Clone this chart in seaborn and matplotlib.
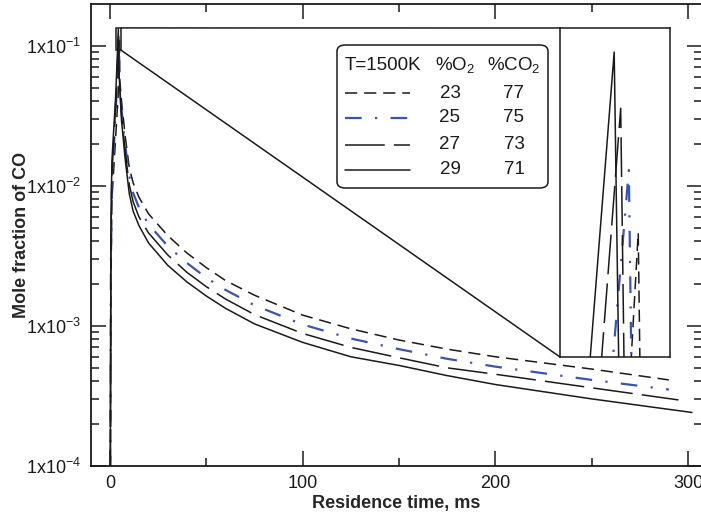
import numpy as np
import pandas as pd
import matplotlib
matplotlib.use("Agg")
import matplotlib.pyplot as plt
import seaborn as sns
from matplotlib.patches import FancyBboxPatch, Rectangle, ConnectionPatch
from matplotlib.lines import Line2D

# ---------------- data ----------------
t_23 = [0, 0.5, 1, 4.2, 4.92, 5.05, 6, 8, 10, 12, 15, 20, 30, 40, 50, 60, 75, 100, 125, 150, 175, 200, 250, 290]
co_23 = [1e-5, 2e-3, 8e-3, 0.043, 0.1085, 0.058, 0.040, 0.022, 0.0135, 0.0105, 0.0083, 0.0063, 0.0044,
         0.0033, 0.0026, 0.0021, 0.00165, 0.00119, 0.00095, 0.00079, 0.00068, 0.00060, 0.00049, 0.00041]

t_25 = [0, 0.5, 1, 3.6, 4.69, 4.85, 6, 8, 10, 12, 15, 20, 30, 40, 50, 60, 75, 100, 125, 150, 175, 200, 250, 290]
co_25 = [1e-5, 3e-3, 0.010, 0.051, 0.1163, 0.054, 0.035, 0.019, 0.0118, 0.0089, 0.0070, 0.0053, 0.0037,
         0.0028, 0.0022, 0.0018, 0.0014, 0.00102, 0.00081, 0.00068, 0.00058, 0.00051, 0.00041, 0.00035]

t_27 = [0, 0.5, 1, 3.3, 4.49, 4.65, 6, 8, 10, 12, 15, 20, 30, 40, 50, 60, 75, 100, 125, 150, 175, 200, 250, 295]
co_27 = [1e-5, 4e-3, 0.012, 0.045, 0.124, 0.062, 0.032, 0.017, 0.0102, 0.0077, 0.0060, 0.0046, 0.0032,
         0.0024, 0.0019, 0.00155, 0.0012, 0.00088, 0.00070, 0.00059, 0.00050, 0.00045, 0.00036, 0.000295]

t_29 = [0, 0.5, 1, 3.0, 4.33, 4.5, 6, 8, 10, 12, 15, 20, 30, 40, 50, 60, 75, 100, 125, 150, 175, 200, 250, 302]
co_29 = [1e-5, 5e-3, 0.015, 0.045, 0.131, 0.072, 0.029, 0.015, 0.0088, 0.0066, 0.0052, 0.0039, 0.0027,
         0.00205, 0.00163, 0.00133, 0.00103, 0.00076, 0.00060, 0.00052, 0.00044, 0.00038, 0.00030, 0.00024]

o2_pct = ["23", "25", "27", "29"]
co2_pct = ["77", "75", "73", "71"]
legend_title = "T=1500K"

y_ticks = [1e-4, 1e-3, 1e-2, 1e-1]
y_tick_labels = [r"1x10$^{-4}$", r"1x10$^{-3}$", r"1x10$^{-2}$", r"1x10$^{-1}$"]
x_ticks = [0, 100, 200, 300]
x_tick_labels = ["0", "100", "200", "300"]

# inset zoom window
inset_xlim = (3.0, 5.7)
inset_ylim = (0.093, 0.134)

# ---------------- style ----------------
sns.set_style("ticks")
plt.rcParams["font.family"] = ["Liberation Sans", "DejaVu Sans"]
plt.rcParams["mathtext.fontset"] = "custom"
plt.rcParams["mathtext.rm"] = "Liberation Sans"
plt.rcParams["mathtext.it"] = "Liberation Sans:italic"
plt.rcParams["mathtext.bf"] = "Liberation Sans:bold"

INK = "#1a1a1a"
BLUE = "#3c54ad"
styles = [
    dict(color=INK, linestyle=(0, (8, 4.5)), lw=1.1),
    dict(color=BLUE, linestyle=(0, (7.5, 6, 1, 6)), lw=1.6),
    dict(color=INK, linestyle=(0, (26, 6)), lw=1.1),
    dict(color=INK, linestyle="-", lw=1.1),
]

W, H = 701, 517
fig = plt.figure(figsize=(W / 100, H / 100), dpi=100)

def fx(px):
    return px / W

def fy(py):
    return 1 - py / H

ax_l, ax_r, ax_t, ax_b = 90.7, 702.0, 4.0, 465.7
ax = fig.add_axes([fx(ax_l), fy(ax_b), fx(ax_r - ax_l), (ax_b - ax_t) / H])

series = [(t_23, co_23), (t_25, co_25), (t_27, co_27), (t_29, co_29)]
for (tt, vv), st in zip(series, styles):
    df = pd.DataFrame({"t": tt, "co": vv})
    sns.lineplot(data=df, x="t", y="co", ax=ax, sort=False, estimator=None,
                 color=st["color"], linestyle=st["linestyle"], linewidth=st["lw"])

ax.set_yscale("log")
ax.set_xlim(-10, 307.2)
ax.set_ylim(1e-4, 0.1986)
ax.set_yticks(y_ticks)
ax.set_yticklabels(y_tick_labels)
ax.set_xticks(x_ticks)
ax.set_xticklabels(x_tick_labels)
ax.set_xticks([50, 150, 250], minor=True)
ax.yaxis.set_minor_locator(matplotlib.ticker.LogLocator(base=10, subs=np.arange(2, 10)))
ax.yaxis.set_minor_formatter(matplotlib.ticker.NullFormatter())
ax.tick_params(which="both", direction="in", top=True, right=True, colors=INK,
               labelsize=13, width=1.1, pad=7)
ax.tick_params(which="major", length=11)
ax.tick_params(which="minor", length=6)
for s in ax.spines.values():
    s.set_linewidth(1.3)
    s.set_color(INK)
ax.set_xlabel("Residence time, ms", fontsize=13, fontweight="bold", labelpad=2)
ax.set_ylabel("Mole fraction of CO", fontsize=13, fontweight="bold")
ax.yaxis.set_label_coords(-0.100, 0.5)

# ---------------- inset ----------------
ix_l, ix_r, ix_t, ix_b = 560, 670, 28, 357
axin = fig.add_axes([fx(ix_l), fy(ix_b), fx(ix_r - ix_l), (ix_b - ix_t) / H])
for (tt, vv), st in zip(series, styles):
    df = pd.DataFrame({"t": tt, "co": vv})
    sns.lineplot(data=df, x="t", y="co", ax=axin, sort=False, estimator=None,
                 color=st["color"], linestyle=st["linestyle"], linewidth=st["lw"])
axin.set_xlim(*inset_xlim)
axin.set_ylim(*inset_ylim)
axin.set_xticks([])
axin.set_yticks([])
axin.set_xlabel("")
axin.set_ylabel("")
for s in axin.spines.values():
    s.set_linewidth(1.1)
    s.set_color(INK)

rect = Rectangle((inset_xlim[0], inset_ylim[0]), inset_xlim[1] - inset_xlim[0],
                 inset_ylim[1] - inset_ylim[0], fill=False, ec=INK, lw=1.1, zorder=5)
ax.add_patch(rect)
for xa, ya, xb, yb in [(inset_xlim[1], inset_ylim[1], 0, 1), (inset_xlim[1], inset_ylim[0], 0, 0)]:
    cp = ConnectionPatch(xyA=(xa, ya), coordsA=ax.transData, xyB=(xb, yb),
                         coordsB=axin.transAxes, color=INK, lw=1.1)
    fig.add_artist(cp)

# ---------------- legend (table style) ----------------
box = FancyBboxPatch((fx(337), fy(188)), fx(548 - 337), (188 - 45) / H,
                     boxstyle="round,pad=0,rounding_size=0.012", transform=fig.transFigure,
                     fc="white", ec=INK, lw=1.1, zorder=10)
fig.add_artist(box)
LFS = 13.5
fig.text(fx(345), fy(65), legend_title, fontsize=LFS, va="center", ha="left", color=INK, zorder=11)
fig.text(fx(455), fy(65), r"%O$_2$", fontsize=LFS, va="center", ha="center", color=INK, zorder=11)
fig.text(fx(514), fy(65), r"%CO$_2$", fontsize=LFS, va="center", ha="center", color=INK, zorder=11)
rows_y = [93, 118, 145, 170]
for ry, st, o2, co2 in zip(rows_y, styles, o2_pct, co2_pct):
    fig.add_artist(Line2D([fx(345), fx(410)], [fy(ry), fy(ry)], transform=fig.transFigure,
                          color=st["color"], linestyle=st["linestyle"], lw=st["lw"], zorder=11))
    fig.text(fx(450), fy(ry), o2, fontsize=LFS, va="center", ha="center", color=INK, zorder=11)
    fig.text(fx(514), fy(ry), co2, fontsize=LFS, va="center", ha="center", color=INK, zorder=11)

fig.savefig("out.png", dpi=100)
